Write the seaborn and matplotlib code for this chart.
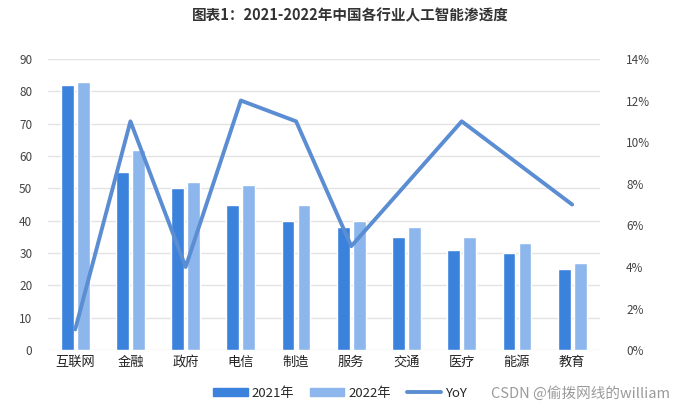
import matplotlib
matplotlib.use("Agg")
import matplotlib.pyplot as plt
import seaborn as sns
import pandas as pd
import numpy as np
from matplotlib.patches import Patch
from matplotlib.lines import Line2D
from matplotlib.ticker import FuncFormatter

categories = ["互联网", "金融", "政府", "电信", "制造", "服务", "交通", "医疗", "能源", "教育"]
v2021 = [82, 55, 50, 45, 40, 38, 35, 31, 30, 25]
v2022 = [83, 62, 52, 51, 45, 40, 38, 35, 33, 27]
yoy = [1, 11, 4, 12, 11, 5, 8, 11, 9, 7]
series_names = ["2021年", "2022年"]
left_ticks = [0, 10, 20, 30, 40, 50, 60, 70, 80, 90]
right_ticks = [0, 2, 4, 6, 8, 10, 12, 14]

sns.set_theme(style="white")
plt.rcParams["font.family"] = ["Noto Sans CJK SC", "DejaVu Sans"]

c2021 = "#3B82DD"
c2022 = "#8DB6EC"
cline = "#5B8DD3"

df = pd.DataFrame({
    "cat": categories * 2,
    "val": v2021 + v2022,
    "year": [series_names[0]] * len(categories) + [series_names[1]] * len(categories),
})

fig = plt.figure(figsize=(6.8, 4.12), dpi=100)
ax = fig.add_axes([0.07, 0.150, 0.812, 0.707])
sns.barplot(data=df, x="cat", y="val", hue="year", order=categories,
            hue_order=series_names, palette=[c2021, c2022], width=0.58, gap=0.2,
            ax=ax, legend=False, saturation=1)
ax.set_ylim(0, 90)
ax.set_yticks(left_ticks)
ax.set_xlim(-0.5, len(categories) - 0.5)
ax.yaxis.grid(True, color="#E3E3E3", linewidth=1)
ax.set_axisbelow(True)
for s in ax.spines.values():
    s.set_visible(False)
ax.set_xlabel("")
ax.set_ylabel("")
ax.tick_params(axis="y", labelsize=8.5, colors="#444444", length=0, pad=11)
ax.tick_params(axis="x", labelsize=9.5, colors="#222222", length=0, pad=4)

ax2 = ax.twinx()
sns.lineplot(x=np.arange(len(categories)), y=yoy, ax=ax2, color=cline, linewidth=2.8)
ax2.set_ylim(0, 14)
ax2.set_yticks(right_ticks)
ax2.yaxis.set_major_formatter(FuncFormatter(lambda v, p: f"{int(v)}%"))
ax2.tick_params(axis="y", labelsize=8.5, colors="#444444", length=0, pad=19)
for s in ax2.spines.values():
    s.set_visible(False)
ax2.set_ylabel("")

fig.text(0.515, 0.962, "图表1：2021-2022年中国各行业人工智能渗透度", ha="center", va="center",
         fontsize=10.5, fontweight="bold", color="#333333")

handles = [Patch(color=c2021), Patch(color=c2022), Line2D([0], [0], color=cline, linewidth=2.8)]
labels = ["2021年", "2022年", "YoY"]
fig.legend(handles, labels, loc="center", bbox_to_anchor=(0.5, 0.046), ncol=3, frameon=False,
           fontsize=9.5, handlelength=2.6, handleheight=0.6, columnspacing=1.2, handletextpad=0.3)

fig.text(0.985, 0.045, "CSDN @偷拨网线的william", ha="right", va="center", fontsize=10.5,
         color="#9A9A9A")

fig.savefig("out.png", dpi=100, facecolor="white")
